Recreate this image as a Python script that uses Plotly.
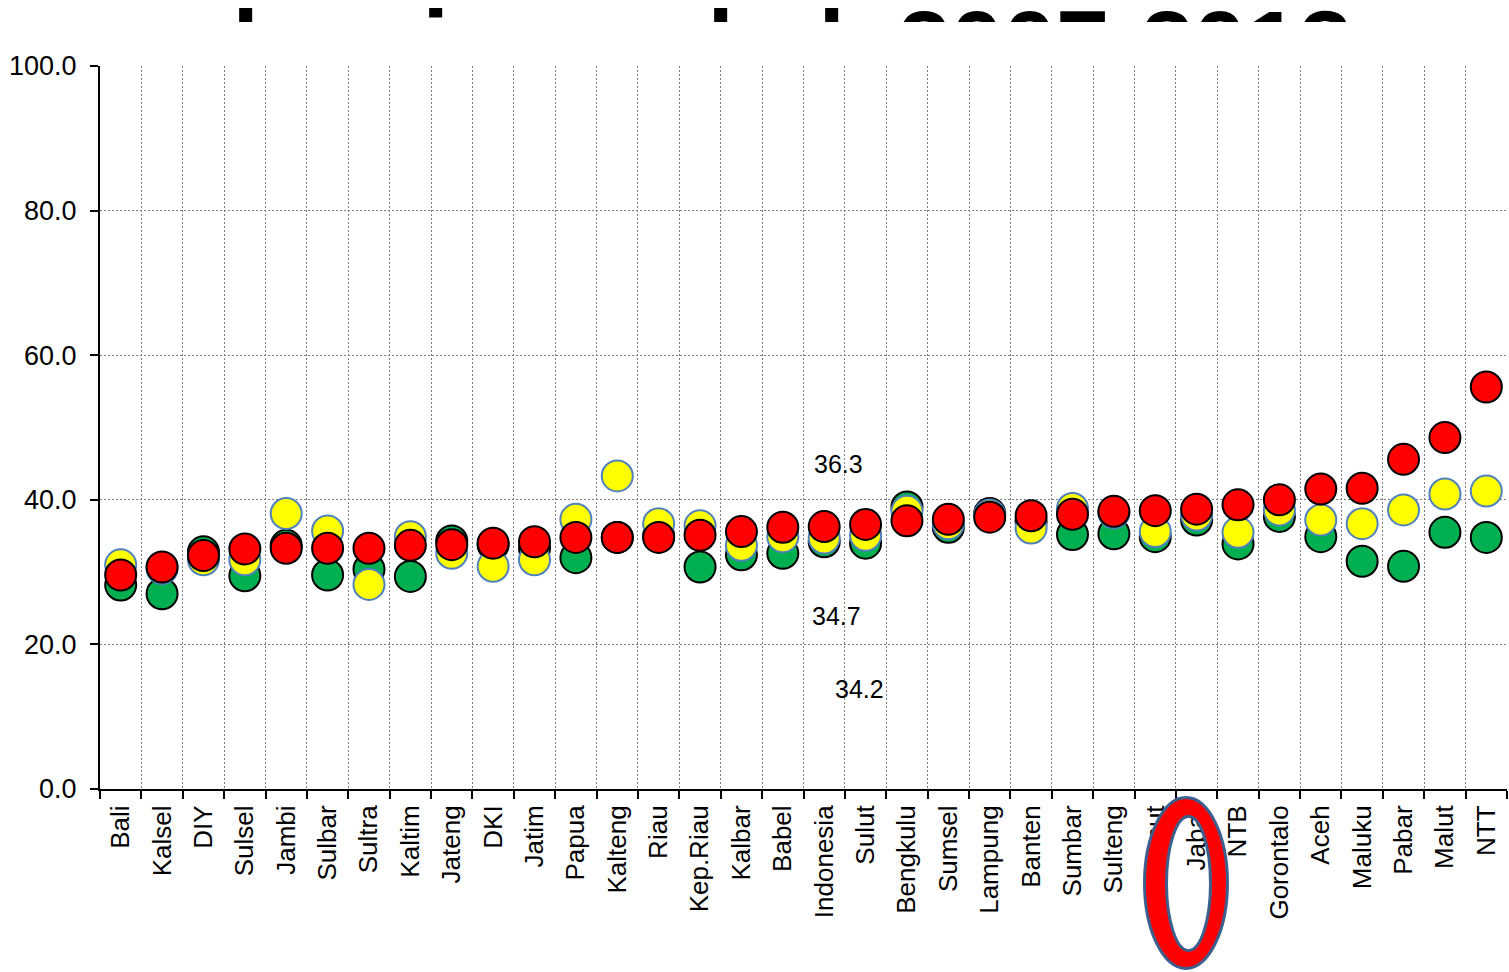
import plotly.graph_objects as go

# ---------------- data ----------------
provinces = ["Bali", "Kalsel", "DIY", "Sulsel", "Jambi", "Sulbar", "Sultra", "Kaltim",
             "Jateng", "DKI", "Jatim", "Papua", "Kalteng", "Riau", "Kep.Riau", "Kalbar",
             "Babel", "Indonesia", "Sulut", "Bengkulu", "Sumsel", "Lampung", "Banten",
             "Sumbar", "Sulteng", "Sumut", "Jabar", "NTB", "Gorontalo", "Aceh", "Maluku",
             "Pabar", "Malut", "NTT"]

green_2007 = [28.2, 27.0, 32.8, 29.5, 33.7, 29.6, 30.4, 29.4, 34.3, 33.8, 33.3, 32.0,
              34.8, 35.0, 30.7, 32.4, 32.6, 34.2, 34.0, 39.0, 36.2, 38.1, 37.0, 35.2,
              35.3, 34.9, 37.2, 33.9, 37.7, 34.9, 31.5, 30.8, 35.5, 34.8]

yellow_2010 = [31.0, 30.5, 31.7, 31.7, 38.1, 35.7, 28.3, 34.9, 32.6, 30.8, 31.7, 37.3,
               43.3, 36.7, 36.4, 33.7, 34.9, 34.7, 35.1, 38.4, 36.7, 37.9, 36.1, 38.8,
               38.2, 35.6, 37.9, 35.5, 38.6, 37.2, 36.7, 38.6, 40.8, 41.2]

red_2013 = [29.6, 30.7, 32.3, 33.2, 33.3, 33.3, 33.3, 33.7, 33.8, 34.0, 34.2, 34.8,
            34.8, 34.8, 35.1, 35.6, 36.2, 36.3, 36.6, 37.1, 37.3, 37.6, 37.8, 38.0,
            38.4, 38.5, 38.7, 39.3, 40.0, 41.5, 41.6, 45.6, 48.6, 55.6]

y_ticks = [0, 20, 40, 60, 80, 100]
title_text = "Prevalensi merokok 2007-2013"

# ---------------- layout geometry (pixels) ----------------
W, H = 1509, 972
M_L, M_R, M_T, M_B = 100, 2, 0, 183
PLOT_W = W - M_L - M_R
PLOT_H = H - M_T - M_B
TOP_PX = 66          # y pixel of value 100
TITLE_CUT_PX = 22    # title visible above this pixel
TITLE_ANCHOR_PX = 53 # vertical anchor of the (mostly hidden) title text


def px2paper_x(px):
    return (px - M_L) / PLOT_W


def px2paper_y(py):
    return (H - M_B - py) / PLOT_H


def ellipse_path(cx, cy, rx, ry):
    k = 0.5523
    X = px2paper_x
    Y = px2paper_y
    pts = [
        f"M {X(cx + rx)},{Y(cy)}",
        f"C {X(cx + rx)},{Y(cy + k * ry)} {X(cx + k * rx)},{Y(cy + ry)} {X(cx)},{Y(cy + ry)}",
        f"C {X(cx - k * rx)},{Y(cy + ry)} {X(cx - rx)},{Y(cy + k * ry)} {X(cx - rx)},{Y(cy)}",
        f"C {X(cx - rx)},{Y(cy - k * ry)} {X(cx - k * rx)},{Y(cy - ry)} {X(cx)},{Y(cy - ry)}",
        f"C {X(cx + k * rx)},{Y(cy - ry)} {X(cx + rx)},{Y(cy - k * ry)} {X(cx + rx)},{Y(cy)} Z",
    ]
    return " ".join(pts)


fig = go.Figure()

marker_size = 31
fig.add_trace(go.Scatter(
    x=provinces, y=green_2007, mode="markers", name="2007",
    marker=dict(size=marker_size, color="#00B050", line=dict(color="#000000", width=2)),
))
fig.add_trace(go.Scatter(
    x=provinces, y=yellow_2010, mode="markers", name="2010",
    marker=dict(size=marker_size, color="#FFFF00", line=dict(color="#4F81BD", width=2)),
))
fig.add_trace(go.Scatter(
    x=provinces, y=red_2013, mode="markers", name="2013",
    marker=dict(size=marker_size, color="#FF0000", line=dict(color="#000000", width=2)),
))

# clipped title (only the tops of the glyphs are visible above the chart)
fig.add_trace(go.Scatter(
    x=[px2paper_x(1352)], y=[-(TITLE_ANCHOR_PX - TITLE_CUT_PX) / TITLE_CUT_PX],
    mode="text", text=[title_text], textposition="middle left",
    textfont=dict(size=95, family="Arial, Liberation Sans", color="black", weight="bold"),
    xaxis="x2", yaxis="y2", cliponaxis=True, hoverinfo="skip", showlegend=False,
))

idx = provinces.index("Indonesia")
ann_font = dict(size=25, family="Arial, Liberation Sans", color="black")
annotations = [
    dict(x="Indonesia", y=45.0, text=f"{red_2013[idx]:.1f}", showarrow=False, xshift=14, font=ann_font),
    dict(x="Indonesia", y=23.9, text=f"{yellow_2010[idx]:.1f}", showarrow=False, xshift=12, font=ann_font),
    dict(x="Indonesia", y=13.8, text=f"{green_2007[idx]:.1f}", showarrow=False, xshift=35, font=ann_font),
]

shapes = [
    dict(type="path", xref="paper", yref="paper", layer="above",
         path=ellipse_path(1186, 883, 41.5, 85.5) + " " + ellipse_path(1188.5, 883.5, 22, 67),
         fillcolor="#FF0000", fillrule="evenodd", line=dict(color="#3D5F8E", width=3)),
]

grid_color = "#808080"
grid_dash = "2px,2px"
fig.update_layout(
    width=W, height=H,
    margin=dict(l=M_L, r=M_R, t=M_T, b=M_B, pad=0, autoexpand=False),
    paper_bgcolor="white", plot_bgcolor="white",
    showlegend=False,
    font=dict(family="Arial, Liberation Sans", color="black"),
    annotations=annotations,
    shapes=shapes,
    xaxis=dict(
        type="category", categoryorder="array", categoryarray=provinces,
        range=[-0.5, len(provinces) - 0.5], domain=[0, 1],
        tickson="boundaries", ticks="outside", ticklen=8, tickwidth=2, tickcolor="black",
        showline=True, linewidth=2, linecolor="black",
        showgrid=True, gridcolor=grid_color, griddash=grid_dash, gridwidth=1,
        tickangle=-90, tickfont=dict(size=26, color="black"), ticklabelstandoff=4,
        anchor="y", fixedrange=True, automargin=False,
    ),
    yaxis=dict(
        range=[0, 100], tickvals=y_ticks, tickformat=".1f",
        domain=[0, (PLOT_H - TOP_PX) / PLOT_H],
        ticks="outside", ticklen=8, tickwidth=2, tickcolor="black",
        showline=True, linewidth=2, linecolor="black",
        showgrid=True, gridcolor=grid_color, griddash=grid_dash, gridwidth=1,
        zeroline=False, tickfont=dict(size=27, color="black"), ticklabelstandoff=8,
        anchor="x", fixedrange=True, automargin=False,
    ),
    xaxis2=dict(domain=[0, 1], range=[0, 1], visible=False, anchor="y2",
                fixedrange=True, automargin=False),
    yaxis2=dict(domain=[(PLOT_H - TITLE_CUT_PX) / PLOT_H, 1], range=[0, 1], visible=False,
                anchor="x2", fixedrange=True, automargin=False),
)

fig.write_html("out.html")
